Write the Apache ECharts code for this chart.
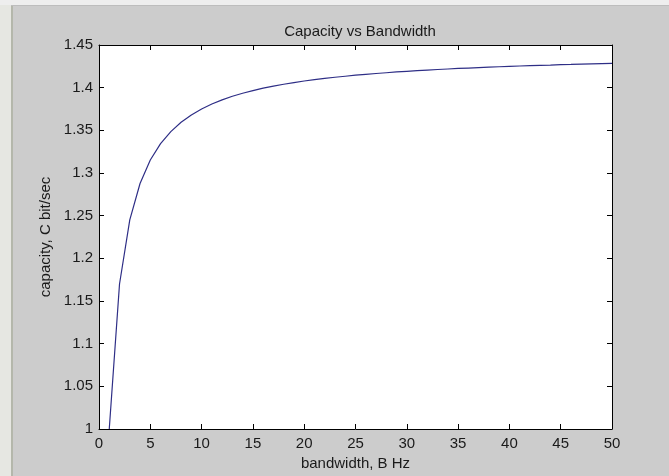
<!DOCTYPE html>
<html>
<head>
<meta charset="utf-8">
<script src="https://cdn.jsdelivr.net/npm/echarts@6/dist/echarts.min.js"></script>
<style>
html,body{margin:0;padding:0;background:#cccccc;}
#c{width:669px;height:476px;}
</style>
</head>
<body>
<div id="c"></div>
<script>
// Bandwidth B (Hz)
var bandwidth = [1,2,3,4,5,6,7,8,9,10,11,12,13,14,15,16,17,18,19,20,21,22,23,24,25,26,27,28,29,30,31,32,33,34,35,36,37,38,39,40,41,42,43,44,45,46,47,48,49,50];
// Capacity C (bit/sec)
var capacity = [1.0000,1.1699,1.2451,1.2877,1.3152,1.3344,1.3485,1.3594,1.3680,1.3750,1.3808,1.3857,1.3899,1.3935,1.3966,1.3994,1.4019,1.4040,1.4060,1.4078,1.4094,1.4109,1.4122,1.4134,1.4146,1.4156,1.4166,1.4175,1.4184,1.4192,1.4199,1.4206,1.4213,1.4219,1.4225,1.4230,1.4235,1.4240,1.4245,1.4250,1.4254,1.4258,1.4262,1.4265,1.4269,1.4272,1.4276,1.4279,1.4282,1.4285];
var xTicks = ['0','5','10','15','20','25','30','35','40','45','50'];
var yTicks = ['1','1.05','1.1','1.15','1.2','1.25','1.3','1.35','1.4','1.45'];

var FONT = '"Liberation Sans", Arial, sans-serif';
var chart = echarts.init(document.getElementById('c'), null, {renderer:'canvas'});
var pts = bandwidth.map(function(b,i){return [b, capacity[i]];});
var tickStyle = {show:true, inside:true, length:5, lineStyle:{color:'#000', width:1}};
chart.setOption({
  backgroundColor:'#cccccc',
  animation:false,
  graphic:[
    {type:'rect', shape:{x:0,y:0,width:11,height:476}, style:{fill:'#e6e7e2'}, z:-1},
    {type:'rect', shape:{x:0,y:0,width:669,height:5}, style:{fill:'#eeeeee'}, z:-1},
    {type:'rect', shape:{x:11,y:5,width:2,height:471}, style:{fill:'#b4b7ab'}, z:-1},
    {type:'rect', shape:{x:11,y:5,width:658,height:1}, style:{fill:'#bdbdbd'}, z:-1}
  ],
  title:{
    text:'Capacity vs Bandwidth',
    left:355, top:19, textAlign:'center',
    textStyle:{fontFamily:FONT, fontSize:15, fontWeight:'normal', color:'#1a1a1a'}
  },
  grid:{left:99, right:57, top:45, bottom:47, show:true, backgroundColor:'#ffffff', borderWidth:0},
  xAxis:[{
    type:'value', min:0, max:50, interval:5,
    name:'bandwidth, B Hz', nameLocation:'middle', nameGap:25,
    nameTextStyle:{fontFamily:FONT, fontSize:15, color:'#1a1a1a'},
    axisLine:{show:true, onZero:false, lineStyle:{color:'#000', width:1}},
    axisTick:tickStyle,
    axisLabel:{fontFamily:FONT, fontSize:15, color:'#1a1a1a', margin:7,
      formatter:function(v){var i=xTicks.indexOf(String(v));return i>=0?xTicks[i]:String(v);}},
    splitLine:{show:false}
  },{
    type:'value', min:0, max:50, interval:5, position:'top',
    axisLine:{show:true, onZero:false, lineStyle:{color:'#000', width:1}},
    axisTick:tickStyle, axisLabel:{show:false}, splitLine:{show:false}
  }],
  yAxis:[{
    type:'value', min:1, max:1.45, interval:0.05,
    name:'capacity, C bit/sec', nameLocation:'middle', nameGap:45, nameRotate:90,
    nameTextStyle:{fontFamily:FONT, fontSize:15, color:'#1a1a1a'},
    axisLine:{show:true, onZero:false, lineStyle:{color:'#000', width:1}},
    axisTick:tickStyle,
    axisLabel:{fontFamily:FONT, fontSize:15, color:'#1a1a1a', margin:6,
      formatter:function(v){var s=String(Math.round(v*100)/100);return yTicks.indexOf(s)>=0?s:s;}},
    splitLine:{show:false}
  },{
    type:'value', min:1, max:1.45, interval:0.05, position:'right',
    axisLine:{show:true, onZero:false, lineStyle:{color:'#000', width:1}},
    axisTick:tickStyle, axisLabel:{show:false}, splitLine:{show:false}
  }],
  series:[{
    type:'line', data:pts, xAxisIndex:0, yAxisIndex:0,
    showSymbol:false, smooth:false,
    lineStyle:{color:'#2e2e86', width:1.2},
    itemStyle:{color:'#2e2e86'}
  }]
});
</script>
</body>
</html>
